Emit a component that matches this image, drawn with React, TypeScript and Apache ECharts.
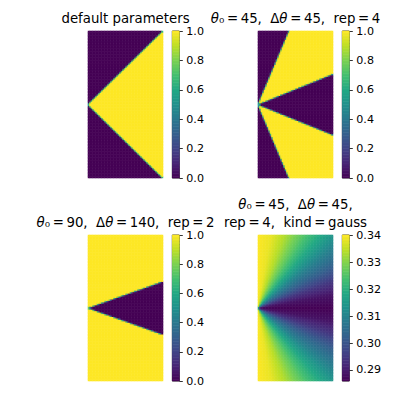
import React, { useEffect, useRef } from "react";
import * as echarts from "echarts";

// ---- data ----
const NX = 50; // image columns
const NY = 100; // image rows
const T = "\u2009"; // thin space around "="
const panelTitles = [
  ["default parameters"],
  [`{i|θ}₀${T}=${T}45,  Δ{i|θ}${T}=${T}45,  rep${T}=${T}4`],
  [`{i|θ}₀${T}=${T}90,  Δ{i|θ}${T}=${T}140,  rep${T}=${T}2`],
  [`{i|θ}₀${T}=${T}45,  Δ{i|θ}${T}=${T}45,`, `rep${T}=${T}4,  kind${T}=${T}gauss`],
];
// wedge parameters of the three binary panels (from titles)
const wedgeTheta0 = [0, 45, 90];
const wedgeDelta = [90, 45, 140];
const wedgeRep = [1, 4, 2];
const gaussAngles = [0, 10, 20, 30, 40, 50, 60, 70, 80, 90];
const gaussValues = [0.2859, 0.2886, 0.2946, 0.3027, 0.3098, 0.3185, 0.3266, 0.3337, 0.3386, 0.3402];
const gaussMin = 0.2859;
const gaussMax = 0.3402;
const binTicks = [0, 0.2, 0.4, 0.6, 0.8, 1.0];
const gaussTicks = [0.29, 0.3, 0.31, 0.32, 0.33, 0.34];

const viridis = [
  "#440154", "#482475", "#414487", "#355f8d", "#2a788e", "#21918c",
  "#22a884", "#44bf70", "#7ad151", "#bddf26", "#fde725",
];

function angleAt(x: number, y: number) {
  return (Math.atan2(y, x) * 180) / Math.PI;
}

function inWedge(ang: number, t0: number, d: number, rep: number) {
  for (let k = 0; k < rep; k++) {
    const c = t0 + (k * 360) / rep;
    const diff = ((((ang - c) % 360) + 540) % 360) - 180;
    if (Math.abs(diff) <= d / 2) return true;
  }
  return false;
}

function gaussLookup(ang: number) {
  const a = Math.min(90, Math.abs(ang));
  for (let k = 0; k < gaussAngles.length - 1; k++) {
    if (a <= gaussAngles[k + 1]) {
      const f = (a - gaussAngles[k]) / (gaussAngles[k + 1] - gaussAngles[k]);
      return gaussValues[k] + f * (gaussValues[k + 1] - gaussValues[k]);
    }
  }
  return gaussValues[gaussValues.length - 1];
}

const SS = 3;
function buildImage(p: number) {
  const out: number[][] = [];
  for (let i = 0; i < NX; i++) {
    for (let j = 0; j < NY; j++) {
      let v: number;
      if (p < 3) {
        let acc = 0;
        for (let a = 0; a < SS; a++)
          for (let b = 0; b < SS; b++) {
            const x = i + (a + 0.5) / SS;
            const y = j + (b + 0.5) / SS - NY / 2;
            if (inWedge(angleAt(x, y), wedgeTheta0[p], wedgeDelta[p], wedgeRep[p])) acc++;
          }
        v = acc / (SS * SS);
      } else {
        v = gaussLookup(angleAt(i + 0.5, j + 0.5 - NY / 2));
      }
      out.push([i, j, v]);
    }
  }
  return out;
}

const imgLeft = [88, 258, 88, 258];
const imgTop = [31, 31, 235, 235];
const imgW = 75;
const imgH = [147, 147, 146, 146];
const cbLeft = [172.3, 342.3, 172.3, 342.3];
const cbW = 7;

export default function App() {
  const ref = useRef<HTMLDivElement>(null);
  useEffect(() => {
    if (!ref.current) return;
    const chart = echarts.init(ref.current, null, { renderer: "svg" });
    const font = "DejaVu Sans";
    const grid: any[] = [];
    const xAxis: any[] = [];
    const yAxis: any[] = [];
    const series: any[] = [];
    const visualMap: any[] = [];
    const graphic: any[] = [];
    const xCats = Array.from({ length: NX }, (_, i) => String(i));
    const yCats = Array.from({ length: NY }, (_, i) => String(i));
    const cbRows = 100;
    const cbCats = Array.from({ length: cbRows }, (_, i) => String(i));

    for (let p = 0; p < 4; p++) {
      grid.push({ left: imgLeft[p], top: imgTop[p], width: imgW, height: imgH[p], containLabel: false });
      xAxis.push({ type: "category", gridIndex: p, data: xCats, show: false });
      yAxis.push({ type: "category", gridIndex: p, data: yCats, show: false });
    }
    for (let p = 0; p < 4; p++) {
      grid.push({
        left: cbLeft[p], top: imgTop[p], width: cbW, height: imgH[p],
        show: true, borderColor: "#000", borderWidth: 0.8, backgroundColor: "transparent",
      });
      xAxis.push({ type: "category", gridIndex: 4 + p, data: ["c"], show: false });
      yAxis.push({ type: "category", gridIndex: 4 + p, data: cbCats, show: false });
    }
    for (let p = 0; p < 4; p++) {
      const isG = p === 3;
      const ticks = isG ? gaussTicks : binTicks;
      yAxis.push({
        type: "value",
        gridIndex: 4 + p,
        position: "right",
        min: isG ? gaussMin : 0,
        max: isG ? gaussMax : 1,
        axisLine: { show: false },
        splitLine: { show: false },
        axisTick: { show: true, length: 3.5, lineStyle: { color: "#000", width: 0.8 }, customValues: ticks },
        axisLabel: {
          color: "#000", fontSize: 11.1, fontFamily: font, margin: 7,
          customValues: ticks,
          formatter: (v: number) => v.toFixed(isG ? 2 : 1),
        },
      });
    }
    for (let p = 0; p < 4; p++) {
      series.push({
        type: "heatmap", xAxisIndex: p, yAxisIndex: p, data: buildImage(p),
        progressive: 0, emphasis: { disabled: true },
      });
    }
    for (let p = 0; p < 4; p++) {
      const mn = p === 3 ? gaussMin : 0;
      const mx = p === 3 ? gaussMax : 1;
      const data: number[][] = [];
      for (let r = 0; r < cbRows; r++) data.push([0, r, mn + ((r + 0.5) / cbRows) * (mx - mn)]);
      series.push({
        type: "heatmap", xAxisIndex: 4 + p, yAxisIndex: 4 + p, data,
        progressive: 0, emphasis: { disabled: true },
      });
    }
    for (let p = 0; p < 4; p++) {
      visualMap.push({
        type: "continuous", show: false,
        min: p === 3 ? gaussMin : 0, max: p === 3 ? gaussMax : 1,
        dimension: 2, seriesIndex: [p, 4 + p],
        inRange: { color: viridis },
      });
    }
    for (let p = 0; p < 4; p++) {
      const lines = panelTitles[p];
      const cx = imgLeft[p] + imgW / 2;
      const baseLast = imgTop[p] - 7.7;
      lines.forEach((t, k) => {
        const baseline = baseLast - (lines.length - 1 - k) * 18.3;
        graphic.push({
          type: "text", x: cx, y: baseline - 4.7,
          style: {
            text: t, fontSize: 13.3, fontFamily: font, fill: "#000", align: "center", verticalAlign: "middle",
            rich: { i: { fontStyle: "italic", fontSize: 13.3, fontFamily: font, fill: "#000" } },
          },
        });
      });
    }

    chart.setOption({
      animation: false,
      backgroundColor: "#fff",
      grid, xAxis, yAxis, series, visualMap, graphic,
    });
    return () => chart.dispose();
  }, []);
  return <div ref={ref} style={{ position: "absolute", left: 0, top: 0, width: 400, height: 400 }} />;
}
